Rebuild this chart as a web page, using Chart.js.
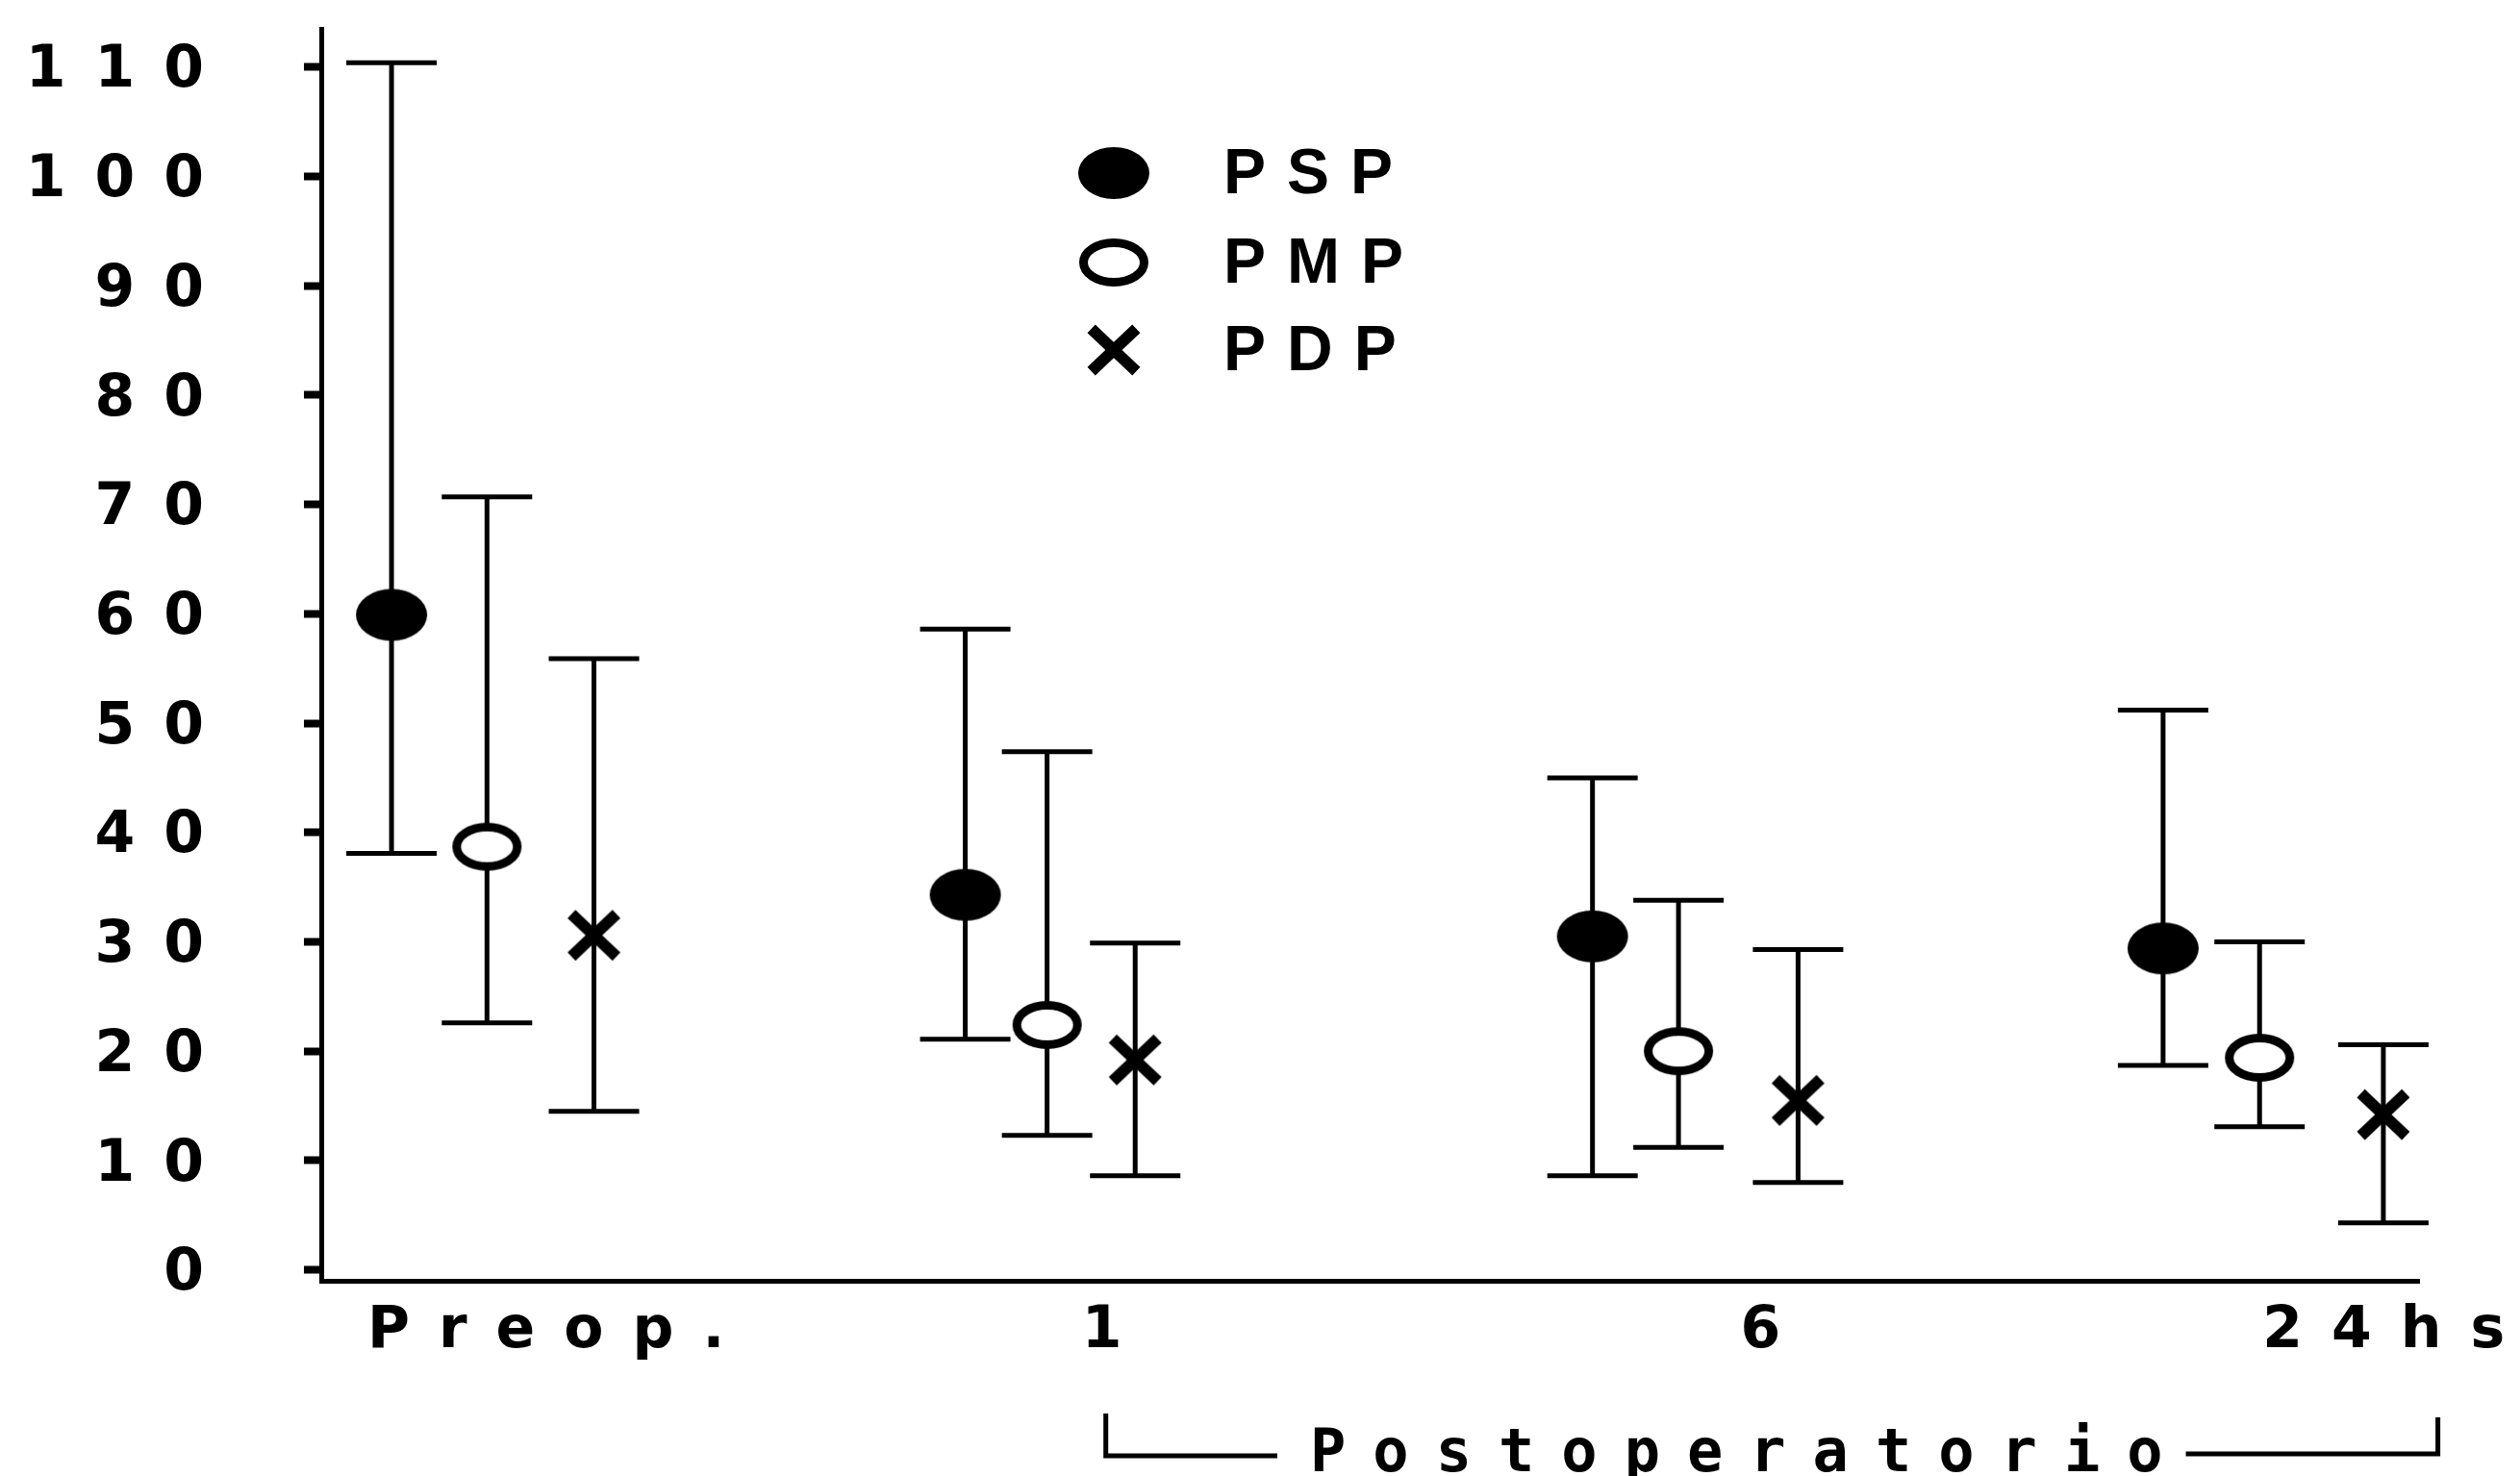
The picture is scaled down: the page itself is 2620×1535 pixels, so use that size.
<!DOCTYPE html>
<html>
<head>
<meta charset="utf-8">
<script src="https://cdn.jsdelivr.net/npm/chart.js@4.4.1/dist/chart.umd.min.js"></script>
<style>
  html, body { margin: 0; padding: 0; background: #fff; }
  #grafico { display: block; }
</style>
</head>
<body>
<canvas id="grafico" width="2620" height="1535"></canvas>
<script>
// datos
const categorias = ['Preop.', '1', '6', '24hs'];
const ticksY = [0, 10, 20, 30, 40, 50, 60, 70, 80, 90, 100, 110];

const pspMedia = [59.9, 34.3, 30.5, 29.4];
const pspSuperior = [110.4, 58.6, 45.0, 51.2];
const pspInferior = [38.1, 21.1, 8.6, 18.7];

const pmpMedia = [38.7, 22.4, 20.0, 19.4];
const pmpSuperior = [70.7, 47.4, 33.8, 30.0];
const pmpInferior = [22.6, 12.3, 11.2, 13.1];

const pdpMedia = [30.6, 19.2, 15.5, 14.2];
const pdpSuperior = [55.9, 29.9, 29.3, 20.6];
const pdpInferior = [14.5, 8.6, 8.0, 4.3];

// ubicacion horizontal (unidades del eje x, 0-100)
const posCategorias = [11.4, 37.9, 69.3, 99.0];
const posPSP = [3.35, 30.7, 60.6, 87.8];
const posPMP = [7.9, 34.6, 64.7, 92.4];
const posPDP = [13.0, 38.8, 70.4, 98.3];

const espaciado = '30px';

function puntos(xs, ys) {
  return xs.map((x, i) => ({ x: x, y: ys[i] }));
}

// marcadores dibujados en canvas chicos
function marcadorLleno() {
  const c = document.createElement('canvas');
  c.width = 76; c.height = 56;
  const g = c.getContext('2d');
  g.fillStyle = '#000';
  g.beginPath();
  g.ellipse(38, 28, 37, 27, 0, 0, Math.PI * 2);
  g.fill();
  return c;
}

function marcadorHueco() {
  const c = document.createElement('canvas');
  c.width = 74; c.height = 52;
  const g = c.getContext('2d');
  g.fillStyle = '#fff';
  g.strokeStyle = '#000';
  g.lineWidth = 9;
  g.beginPath();
  g.ellipse(37, 26, 31.5, 20.5, 0, 0, Math.PI * 2);
  g.fill();
  g.stroke();
  return c;
}

function marcadorCruz() {
  const c = document.createElement('canvas');
  c.width = 60; c.height = 58;
  const g = c.getContext('2d');
  g.strokeStyle = '#000';
  g.lineWidth = 12;
  g.lineCap = 'square';
  g.beginPath();
  g.moveTo(11, 11); g.lineTo(49, 47);
  g.moveTo(49, 11); g.lineTo(11, 47);
  g.stroke();
  return c;
}

const espaciadoTexto = {
  id: 'espaciadoTexto',
  beforeDraw(chart) {
    chart.ctx.letterSpacing = espaciado;
  }
};

const barrasError = {
  id: 'barrasError',
  beforeDatasetsDraw(chart) {
    const ctx = chart.ctx;
    const escalaY = chart.scales.y;
    ctx.save();
    ctx.strokeStyle = '#000';
    ctx.lineWidth = 5;
    chart.data.datasets.forEach((ds, i) => {
      const meta = chart.getDatasetMeta(i);
      meta.data.forEach((pt, j) => {
        const yArr = escalaY.getPixelForValue(ds.superior[j]);
        const yAba = escalaY.getPixelForValue(ds.inferior[j]);
        ctx.beginPath();
        ctx.moveTo(pt.x, yArr); ctx.lineTo(pt.x, yAba);
        ctx.moveTo(pt.x - 47, yArr); ctx.lineTo(pt.x + 47, yArr);
        ctx.moveTo(pt.x - 47, yAba); ctx.lineTo(pt.x + 47, yAba);
        ctx.stroke();
      });
    });
    ctx.restore();
  }
};

const leyenda = {
  id: 'leyenda',
  afterDraw(chart) {
    const ctx = chart.ctx;
    const filas = [180, 273, 364];
    ctx.save();
    ctx.letterSpacing = '22px';
    ctx.font = 'bold 66px "Liberation Sans"';
    ctx.fillStyle = '#000';
    ctx.textBaseline = 'middle';
    ctx.textAlign = 'left';
    chart.data.datasets.forEach((ds, i) => {
      const img = ds.pointStyle;
      ctx.drawImage(img, 1158 - img.width / 2, filas[i] - img.height / 2);
      ctx.fillText(ds.label, 1272, filas[i] + 3);
    });
    ctx.restore();
  }
};

const llave = {
  id: 'llave',
  afterDraw(chart) {
    const ctx = chart.ctx;
    const escalaX = chart.scales.x;
    const izq = escalaX.getPixelForValue(37.4);
    const der = escalaX.getPixelForValue(100.9);
    const texto = 'Postoperatorio';
    ctx.save();
    ctx.letterSpacing = '28px';
    ctx.font = 'bold 62px "DejaVu Sans Mono"';
    ctx.fillStyle = '#000';
    ctx.textBaseline = 'alphabetic';
    ctx.textAlign = 'left';
    const ancho = ctx.measureText(texto).width - 28;
    const inicio = 1362;
    ctx.fillText(texto, inicio, 1530);
    ctx.strokeStyle = '#000';
    ctx.lineWidth = 5;
    ctx.beginPath();
    ctx.moveTo(izq, 1470); ctx.lineTo(izq, 1514); ctx.lineTo(inicio - 34, 1514);
    ctx.moveTo(inicio + ancho + 24, 1512); ctx.lineTo(der, 1512); ctx.lineTo(der, 1474);
    ctx.stroke();
    ctx.restore();
  }
};

const ctx = document.getElementById('grafico').getContext('2d');

new Chart(ctx, {
  type: 'scatter',
  data: {
    datasets: [
      {
        label: 'PSP',
        data: puntos(posPSP, pspMedia),
        superior: pspSuperior,
        inferior: pspInferior,
        pointStyle: marcadorLleno()
      },
      {
        label: 'PMP',
        data: puntos(posPMP, pmpMedia),
        superior: pmpSuperior,
        inferior: pmpInferior,
        pointStyle: marcadorHueco()
      },
      {
        label: 'PDP',
        data: puntos(posPDP, pdpMedia),
        superior: pdpSuperior,
        inferior: pdpInferior,
        pointStyle: marcadorCruz()
      }
    ]
  },
  options: {
    responsive: false,
    animation: false,
    events: [],
    devicePixelRatio: 1,
    layout: { padding: { top: 30, right: 105, left: 0, bottom: 0 } },
    plugins: {
      legend: { display: false },
      tooltip: { enabled: false }
    },
    scales: {
      x: {
        type: 'linear',
        min: 0,
        max: 100,
        afterBuildTicks: scale => {
          scale.ticks = posCategorias.map(v => ({ value: v }));
        },
        afterFit: scale => {
          scale.height = 203;
          scale.paddingLeft = 0;
          scale.paddingRight = 0;
        },
        grid: { display: false, drawTicks: false },
        border: { display: true, color: '#000', width: 5 },
        ticks: {
          autoSkip: false,
          maxRotation: 0,
          padding: 17,
          color: '#000',
          font: { family: 'DejaVu Sans', size: 60, weight: 'bold' },
          callback: (valor, indice) => categorias[indice]
        }
      },
      y: {
        min: -1,
        max: 113.5,
        afterBuildTicks: scale => {
          scale.ticks = ticksY.map(v => ({ value: v }));
        },
        afterFit: scale => {
          scale.width = 334;
          scale.paddingTop = 0;
          scale.paddingBottom = 0;
        },
        grid: {
          display: true,
          drawOnChartArea: false,
          drawTicks: true,
          tickLength: 18,
          tickWidth: 8,
          tickColor: '#000',
          color: '#000'
        },
        border: { display: true, color: '#000', width: 5 },
        ticks: {
          padding: 74,
          labelOffset: 5,
          color: '#000',
          font: { family: 'DejaVu Sans', size: 60, weight: 'bold' }
        }
      }
    }
  },
  plugins: [espaciadoTexto, barrasError, leyenda, llave]
});
</script>
</body>
</html>
